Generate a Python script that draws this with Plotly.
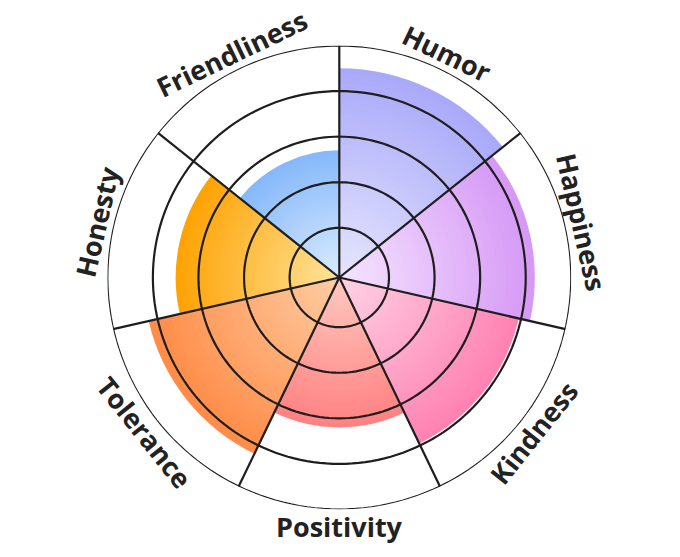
import math
import plotly.graph_objects as go

categories = ["Humor", "Happiness", "Kindness", "Positivity", "Tolerance", "Honesty", "Friendliness"]
values = [4.5, 4.2, 3.95, 3.2, 4.2, 3.5, 2.7]
outer_colors = ["#a9a9fa", "#d699f6", "#ff82b3", "#ff8282", "#ff8c48", "#ffa305", "#86b9fa"]
inner_colors = ["#e6e6ff", "#f5e4fe", "#ffd2e4", "#ffc8bf", "#ffcda3", "#ffe39a", "#d9ebff"]
ring_values = [1, 2, 3, 4, 5]

R_MIN = -0.09
R_MAX = 5
W, H = 680, 557
CX, CY = 339.3, 277.5      # polar centre in px
RPX = 232.0                # outer radius in px
LINE = "#1e1e1e"

n = len(categories)
step = 360 / n
thetas = [i * step + step / 2 for i in range(n)]


def hex2rgb(h):
    h = h.lstrip("#")
    return tuple(int(h[i:i + 2], 16) for i in (0, 2, 4))


def lerp(c0, c1, f):
    a, b = hex2rgb(c0), hex2rgb(c1)
    return "rgb(%d,%d,%d)" % tuple(round(a[i] + (b[i] - a[i]) * f) for i in range(3))


fig = go.Figure()

N = 40
for k in range(N, 0, -1):
    f = k / N
    fig.add_trace(go.Barpolar(
        theta=thetas,
        r=[v * f - R_MIN for v in values],
        base=[R_MIN] * n,
        width=[step] * n,
        marker=dict(color=[lerp(inner_colors[i], outer_colors[i], f) for i in range(n)],
                    line=dict(width=0)),
        hoverinfo="skip",
        showlegend=False,
    ))

# rings
rt, rr = [], []
for rv in ring_values:
    for a in range(0, 361, 2):
        rt.append(a)
        rr.append(rv)
    rt.append(None)
    rr.append(None)
fig.add_trace(go.Scatterpolar(theta=rt, r=rr, mode="lines",
                              line=dict(color=LINE, width=2.2),
                              hoverinfo="skip", showlegend=False))

# spokes
st, sr = [], []
for i in range(n):
    a = i * step
    st += [a, a, None]
    sr += [R_MIN, R_MAX, None]
fig.add_trace(go.Scatterpolar(theta=st, r=sr, mode="lines",
                              line=dict(color=LINE, width=2.2),
                              hoverinfo="skip", showlegend=False))

# labels
RL = 249
annotations = []
for i, name in enumerate(categories):
    t = thetas[i]
    x = CX + RL * math.sin(math.radians(t))
    y = CY - RL * math.cos(math.radians(t))
    ang = t if (t < 90 or t > 270) else t - 180
    if ang > 180:
        ang -= 360
    annotations.append(dict(
        x=x / W, y=1 - y / H, xref="paper", yref="paper",
        text=name, showarrow=False, textangle=ang,
        xanchor="center", yanchor="middle",
        font=dict(family="Open Sans", size=27, color="#222222", weight="bold"),
    ))

fig.update_layout(
    width=W, height=H,
    margin=dict(l=0, r=0, t=0, b=0),
    paper_bgcolor="white",
    plot_bgcolor="white",
    showlegend=False,
    annotations=annotations,
    polar=dict(
        domain=dict(x=[(CX - RPX) / W, (CX + RPX) / W],
                    y=[(H - CY - RPX) / H, (H - CY + RPX) / H]),
        bgcolor="rgba(0,0,0,0)",
        barmode="overlay",
        bargap=0,
        radialaxis=dict(range=[R_MIN, R_MAX], visible=False),
        angularaxis=dict(visible=False, rotation=90, direction="clockwise"),
    ),
)

fig.write_html("out.html", config={"displayModeBar": False},
               post_script="document.body.style.margin='0';")
